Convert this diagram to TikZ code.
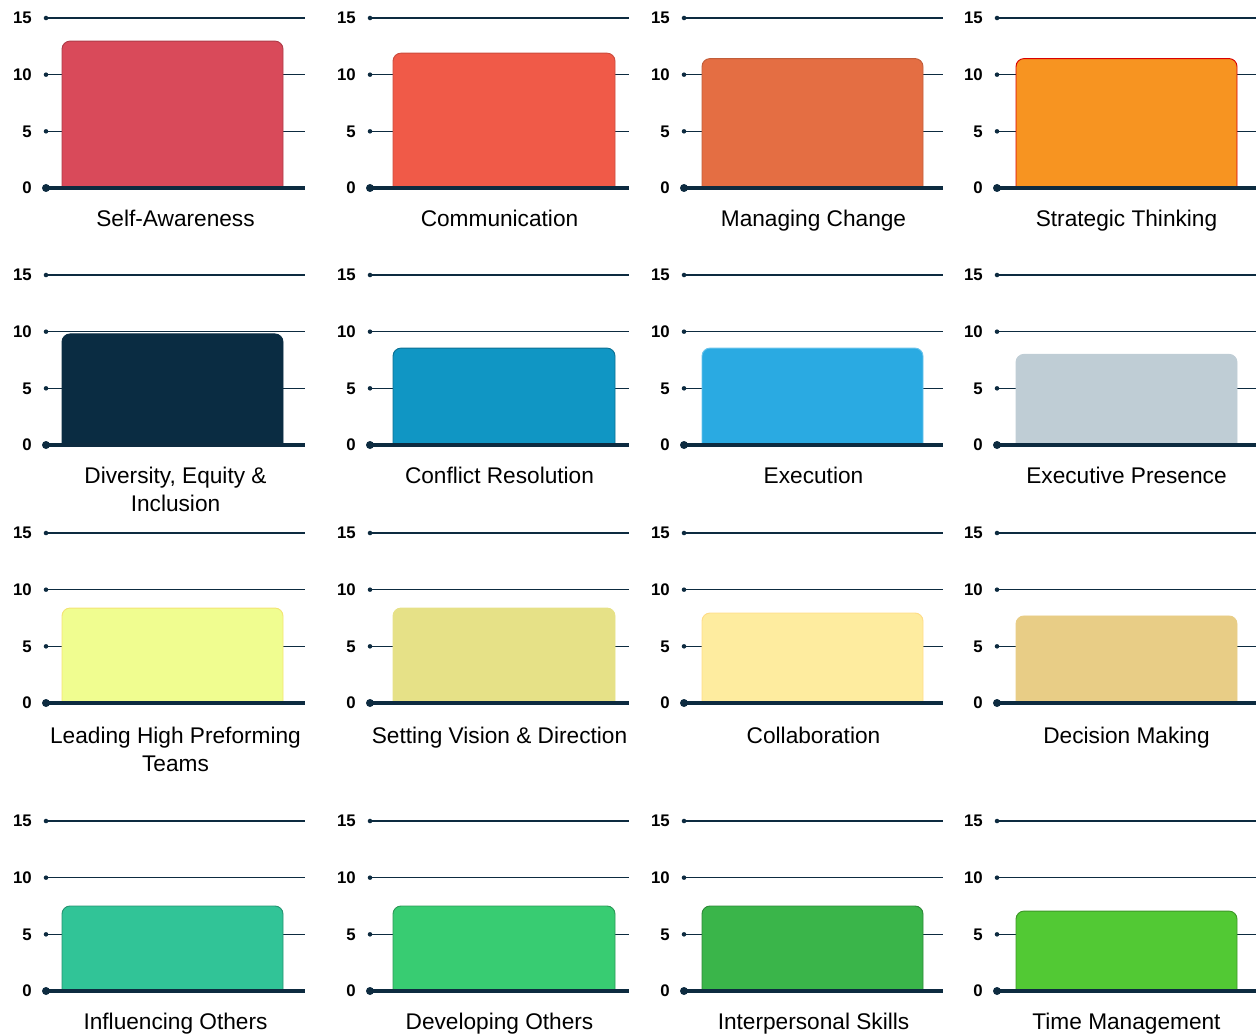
\documentclass[tikz,border=0pt]{standalone}
\usepackage{fontspec}
\setmainfont{Liberation Sans}
\usepackage{xcolor}
\usepackage{tikz}
\usetikzlibrary{positioning}
\definecolor{axis}{HTML}{0D2B40}
\definecolor{cA}{HTML}{D94A5A}
\definecolor{cB}{HTML}{F05A48}
\definecolor{cC}{HTML}{E46E43}
\definecolor{cD}{HTML}{F79421}
\definecolor{cE}{HTML}{0A2C42}
\definecolor{cF}{HTML}{1096C4}
\definecolor{cG}{HTML}{2AAAE2}
\definecolor{cH}{HTML}{BFCDD5}
\definecolor{cI}{HTML}{F0FD90}
\definecolor{cJ}{HTML}{E6E187}
\definecolor{cK}{HTML}{FEEC9F}
\definecolor{cL}{HTML}{E8CD86}
\definecolor{cM}{HTML}{31C497}
\definecolor{cN}{HTML}{38CC72}
\definecolor{cO}{HTML}{3AB54A}
\definecolor{cP}{HTML}{52C934}
\tikzset{
  gridline/.style={draw=axis,line width=1.2pt},
  zeroline/.style={draw=axis,line width=2.4pt},
  ticklbl/.style={font=\bfseries\fontsize{12.6}{14}\selectfont,anchor=east,inner sep=0pt},
  barbox/.style={fill=#1,line width=0.7pt},
  lbl/.style={font=\fontsize{17}{21}\selectfont,align=center,anchor=north,inner sep=0pt}
}

\begin{document}
\begin{tikzpicture}[x=0.75pt,y=-0.75pt]
    \useasboundingbox (0,0) rectangle (1256,1034);
    \def\colA{{46,370,684,997}}
    \def\colB{{305,629,943,1256}}
    \def\barA{{62,393,702,1016}}
    \def\barB{{283,615,923,1237}}
    \def\rowZ{{188,445,703,991}}
    \def\rowL{{22,22,24,22}}

    % Panels
    \foreach \n/\c/\r/\v/\clr/\bd/\txt in {
      1/0/0/12.96/cA/cA!80!black/Self-Awareness,
      2/1/0/11.9/cB/cB!85!black/Communication,
      3/2/0/11.42/cC/cC!85!black/Managing Change,
      4/3/0/11.42/cD/red!85!black/Strategic Thinking,
      5/0/1/9.8/cE/cE/{Diversity, Equity \&\\Inclusion},
      6/1/1/8.55/cF/cF!75!black/Conflict Resolution,
      7/2/1/8.55/cG/cG!70!white/Execution,
      8/3/1/8.0/cH/cH/Executive Presence,
      9/0/2/8.38/cI/cI!80!orange/{Leading High Preforming\\Teams},
      10/1/2/8.38/cJ/cJ/Setting Vision \& Direction,
      11/2/2/7.94/cK/cK!85!orange/Collaboration,
      12/3/2/7.68/cL/cL/Decision Making,
      13/0/3/7.5/cM/cM!75!black/Influencing Others,
      14/1/3/7.5/cN/cN!75!black/Developing Others,
      15/2/3/7.5/cO/cO!75!black/Interpersonal Skills,
      16/3/3/7.05/cP/cP!75!black/Time Management} {
      \pgfmathsetmacro\xa{\colA[\c]}
      \pgfmathsetmacro\xb{\colB[\c]}
      \pgfmathsetmacro\ba{\barA[\c]}
      \pgfmathsetmacro\bb{\barB[\c]}
      \pgfmathsetmacro\yz{\rowZ[\r]}
      \pgfmathsetmacro\yl{\yz+\rowL[\r]}
      \pgfmathsetmacro\yt{\yz-\v*11.333}
      % grid
      \foreach \k in {5,10,15} {
        \pgfmathsetmacro\yk{\yz-\k*11.333}
        \draw[gridline] (\xa,\yk) -- (\xb,\yk);
        \fill[axis] (\xa,\yk) circle (1.7pt);
        \node[ticklbl] (t\n-\k) at (\xa-14,\yk) {\k};
      }
      % bar
      \filldraw[barbox=\clr,draw=\bd] (\ba,\yz) [rounded corners=6pt] -- (\ba,\yt) -- (\bb,\yt)
        [sharp corners] -- (\bb,\yz) -- cycle;
      \draw[zeroline] (\xa,\yz) -- (\xb,\yz);
      \fill[axis] (\xa,\yz) circle (3pt);
      \node[ticklbl] (t\n-0) at (\xa-14,\yz) {0};
      \node[lbl] (lbl\n) at ({(\xa+\xb)/2},\yl) {\txt};
    }
  \end{tikzpicture}
\end{document}
